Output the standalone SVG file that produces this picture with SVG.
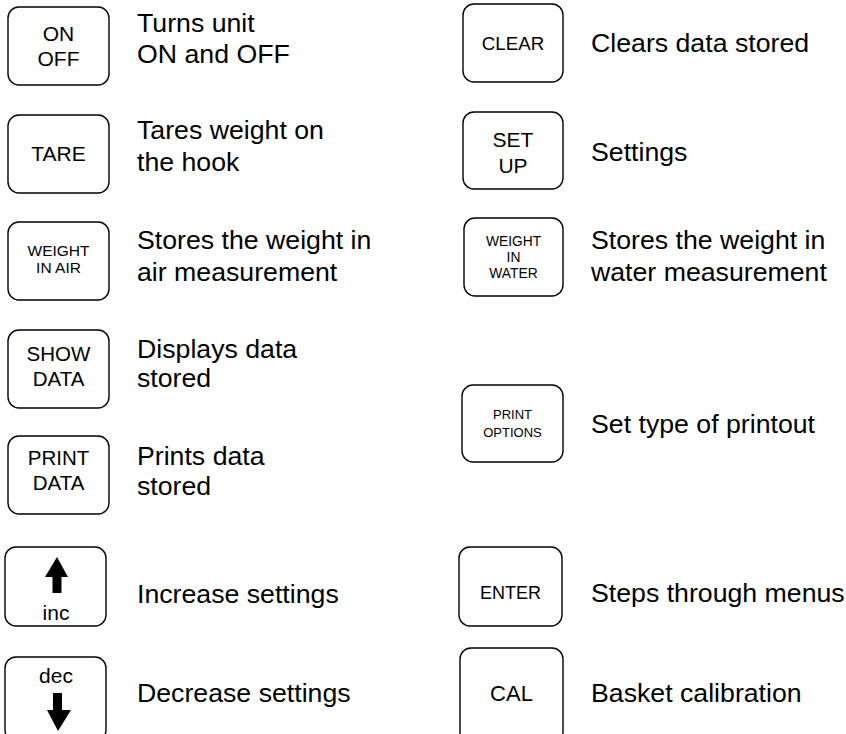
<svg xmlns="http://www.w3.org/2000/svg" width="846" height="734" viewBox="0 0 846 734">
<style>
.key{fill:#fff;stroke:#000;stroke-width:1.4}
.lbl{font-family:"Liberation Sans",Arial,sans-serif;fill:#000;text-anchor:middle}
.desc{font-family:"Liberation Sans",Arial,sans-serif;font-size:26.7px;fill:#000}
.arrow{fill:#000}
</style>
<rect width="846" height="734" fill="#fff"/>
<g id="onoff">
<rect class="key" x="8" y="7" width="101" height="78" rx="11"/>
<text class="lbl" x="58.5" y="41" font-size="21">ON</text>
<text class="lbl" x="58.5" y="66" font-size="21">OFF</text>
<text class="desc" x="137" y="32">Turns unit</text>
<text class="desc" x="137" y="63">ON and OFF</text>
</g>
<g id="tare">
<rect class="key" x="8" y="115" width="101" height="78" rx="11"/>
<text class="lbl" x="58.5" y="161" font-size="21">TARE</text>
<text class="desc" x="137" y="139">Tares weight on</text>
<text class="desc" x="137" y="171">the hook</text>
</g>
<g id="weight-in-air">
<rect class="key" x="8" y="222" width="101" height="78" rx="11"/>
<text class="lbl" x="58.5" y="256" font-size="15.5">WEIGHT</text>
<text class="lbl" x="58.5" y="273" font-size="15.5">IN AIR</text>
<text class="desc" x="137" y="249">Stores the weight in</text>
<text class="desc" x="137" y="281">air measurement</text>
</g>
<g id="show-data">
<rect class="key" x="8" y="330" width="101" height="78" rx="11"/>
<text class="lbl" x="58.5" y="361" font-size="20.5">SHOW</text>
<text class="lbl" x="58.5" y="386" font-size="20.5">DATA</text>
<text class="desc" x="137" y="358">Displays data</text>
<text class="desc" x="137" y="387">stored</text>
</g>
<g id="print-data">
<rect class="key" x="8" y="436" width="101" height="78" rx="11"/>
<text class="lbl" x="58.5" y="465" font-size="20.5">PRINT</text>
<text class="lbl" x="58.5" y="490" font-size="20.5">DATA</text>
<text class="desc" x="137" y="465">Prints data</text>
<text class="desc" x="137" y="495">stored</text>
</g>
<g id="inc">
<rect class="key" x="5" y="547" width="101" height="79" rx="11"/>
<polygon class="arrow" points="57,557 68,577 61.5,577 61.5,593 52.5,593 52.5,577 45,577"/>
<text class="lbl" x="56" y="620" font-size="21">inc</text>
<text class="desc" x="137" y="603">Increase settings</text>
</g>
<g id="dec">
<rect class="key" x="5" y="657" width="101" height="84" rx="11"/>
<text class="lbl" x="56" y="683" font-size="21">dec</text>
<polygon class="arrow" points="53,693 62,693 62,710 71,710 58,731 47,710 53,710"/>
<text class="desc" x="137" y="702">Decrease settings</text>
</g>
<g id="clear">
<rect class="key" x="463" y="4" width="100" height="78" rx="11"/>
<text class="lbl" x="513" y="50" font-size="18.7">CLEAR</text>
<text class="desc" x="591" y="52">Clears data stored</text>
</g>
<g id="setup">
<rect class="key" x="463" y="112" width="100" height="77" rx="11"/>
<text class="lbl" x="513" y="147" font-size="21">SET</text>
<text class="lbl" x="513" y="173" font-size="21">UP</text>
<text class="desc" x="591" y="161">Settings</text>
</g>
<g id="weight-in-water">
<rect class="key" x="464" y="218" width="99" height="78" rx="11"/>
<text class="lbl" x="513.5" y="246" font-size="13.8">WEIGHT</text>
<text class="lbl" x="513.5" y="262" font-size="13.8">IN</text>
<text class="lbl" x="513.5" y="278" font-size="13.8">WATER</text>
<text class="desc" x="591" y="249">Stores the weight in</text>
<text class="desc" x="591" y="281">water measurement</text>
</g>
<g id="print-options">
<rect class="key" x="462" y="385" width="101" height="77" rx="11"/>
<text class="lbl" x="512.5" y="419" font-size="13">PRINT</text>
<text class="lbl" x="512.5" y="437" font-size="13">OPTIONS</text>
<text class="desc" x="591" y="433">Set type of printout</text>
</g>
<g id="enter">
<rect class="key" x="459" y="547" width="103" height="79" rx="11"/>
<text class="lbl" x="510.5" y="599" font-size="18">ENTER</text>
<text class="desc" x="591" y="602">Steps through menus</text>
</g>
<g id="cal">
<rect class="key" x="460" y="648" width="103" height="95" rx="11"/>
<text class="lbl" x="511.5" y="701" font-size="22">CAL</text>
<text class="desc" x="591" y="702">Basket calibration</text>
</g>
</svg>
